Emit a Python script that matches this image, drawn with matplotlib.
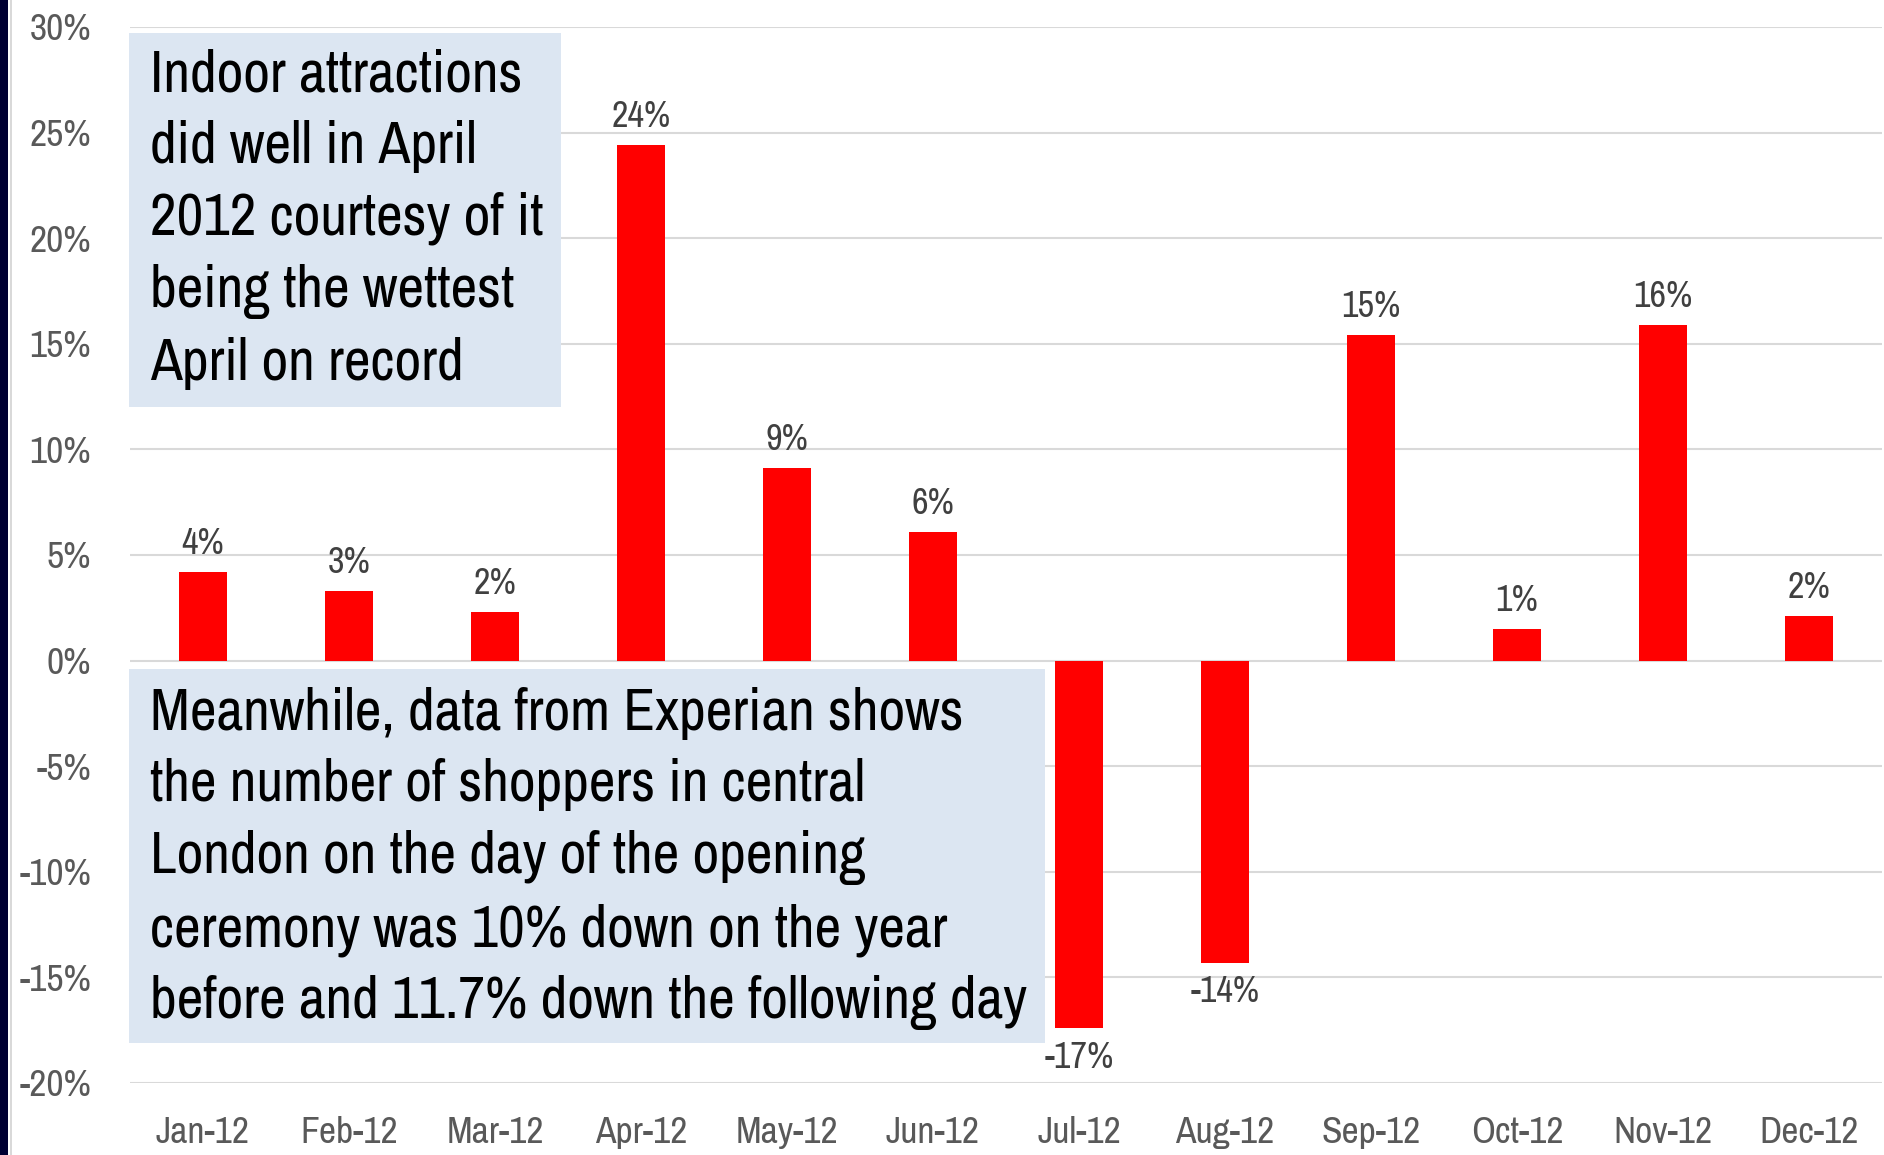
import matplotlib.pyplot as plt
from matplotlib.patches import Rectangle
import numpy as np

months = ['Jan-12', 'Feb-12', 'Mar-12', 'Apr-12', 'May-12', 'Jun-12',
          'Jul-12', 'Aug-12', 'Sep-12', 'Oct-12', 'Nov-12', 'Dec-12']
values = [4.2, 3.3, 2.3, 24.4, 9.1, 6.1, -17.4, -14.3, 15.4, 1.5, 15.9, 2.1]
labels = ['4%', '3%', '2%', '24%', '9%', '6%', '-17%', '-14%', '15%', '1%', '16%', '2%']
yticks = [-20, -15, -10, -5, 0, 5, 10, 15, 20, 25, 30]

note_top = "Indoor attractions\ndid well in April\n2012 courtesy of it\nbeing the wettest\nApril on record"
note_bottom = ("Meanwhile, data from Experian shows\nthe number of shoppers in central\n"
               "London on the day of the opening\nceremony was 10% down on the year\n"
               "before and 11.7% down the following day")

plt.rcParams['font.family'] = ['Archivo Narrow', 'Liberation Sans', 'DejaVu Sans']

W, H = 1884, 1155
fig = plt.figure(figsize=(W / 100, H / 100), dpi=100)
ax = fig.add_axes([130 / W, 1 - 1083 / H, 1752 / W, (1083 - 27) / H])

x = np.arange(len(months))
ax.bar(x, values, width=0.33, color='#FF0000', zorder=3)

ax.set_xlim(-0.5, len(months) - 0.5)
ax.set_ylim(-20, 30)
ax.set_yticks(yticks)
ax.set_yticklabels([f'{t}%' for t in yticks])
ax.set_xticks(x)
ax.set_xticklabels(months)
ax.tick_params(axis='y', length=0, pad=28, labelsize=27, labelcolor='#595959')
ax.tick_params(axis='x', length=0, pad=24, labelsize=27, labelcolor='#595959')
ax.grid(axis='y', color='#D9D9D9', linewidth=1.5, zorder=0)
for s in ax.spines.values():
    s.set_visible(False)

for xi, v, lab in zip(x, values, labels):
    if v >= 0:
        ax.annotate(lab, (xi, v), xytext=(0, 13), textcoords='offset points',
                    ha='center', va='baseline', fontsize=26, color='#404040')
    else:
        ax.annotate(lab, (xi, v), xytext=(0, -9), textcoords='offset points',
                    ha='center', va='top', fontsize=26, color='#404040')


# annotation boxes, laid out in pixels
def px_box(x0, y0, x1, y1):
    return Rectangle((x0 / W, 1 - y1 / H), (x1 - x0) / W, (y1 - y0) / H,
                     transform=fig.transFigure, facecolor='#DCE6F2',
                     edgecolor='none', zorder=5)


fig.patches.append(px_box(129, 33, 561, 407))
fig.patches.append(px_box(129, 669, 1045, 1043))
# baseline of the last line is the anchor for multi-line text
fig.text(150 / W, 1 - 380 / H, note_top, ha='left', va='baseline', fontsize=42,
         linespacing=1.43, color='black', zorder=6)
fig.text(150 / W, 1 - 1018 / H, note_bottom, ha='left', va='baseline', fontsize=42,
         linespacing=1.43, color='black', zorder=6)

# dark strip on the left edge
fig.patches.append(Rectangle((0, 0), 8 / W, 1, transform=fig.transFigure,
                             facecolor='#000033', edgecolor='none'))
fig.patches.append(Rectangle((10 / W, 0), 1.5 / W, 1, transform=fig.transFigure,
                             facecolor='#D9D9D9', edgecolor='none'))

fig.savefig('out.png', dpi=100)
